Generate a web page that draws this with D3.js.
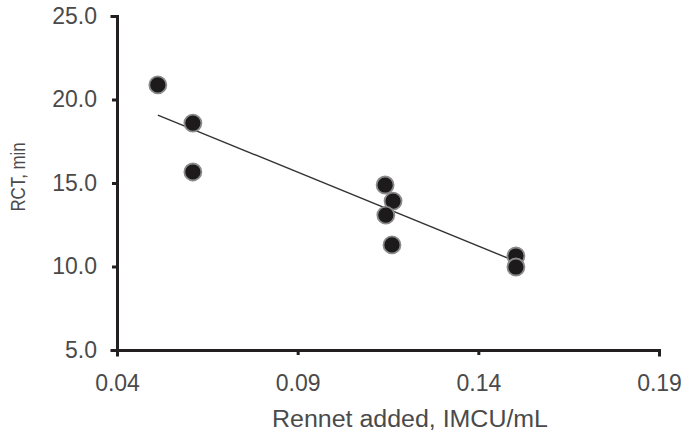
<!DOCTYPE html>
<html>
<head>
<meta charset="utf-8">
<script src="https://cdn.jsdelivr.net/npm/d3@7"></script>
<style>
  body { margin: 0; background: #fff; }
  svg text { font-family: "Liberation Sans", Arial, sans-serif; fill: #4a4a4a; }
  .axis path, .axis line { stroke: #231f20; stroke-width: 3; }
</style>
</head>
<body>
<svg width="685" height="434"></svg>
<script>
// rennet added (IMCU/mL) vs rennet coagulation time (min)
var rennet = [0.0513, 0.0610, 0.0610, 0.1142, 0.1164, 0.1144, 0.1161, 0.1504, 0.1504];
var rct    = [20.87, 18.59, 15.66, 14.88, 13.92, 13.08, 11.29, 10.63, 9.97];

// trend line ends
var trendX = [0.0513, 0.1501];
var trendY = [19.07, 10.33];

var xTicks = [0.04, 0.09, 0.14, 0.19];
var yTicks = [5, 10, 15, 20, 25];

var svg = d3.select("svg");
var margin = {left: 117, top: 16, right: 26, bottom: 84};
var width = 685 - margin.left - margin.right,
    height = 434 - margin.top - margin.bottom;

var x = d3.scaleLinear().domain([0.04, 0.19]).range([0, width]);
var y = d3.scaleLinear().domain([5, 25]).range([height, 0]);

var g = svg.append("g")
  .attr("transform", "translate(" + margin.left + "," + margin.top + ")");

// trend line
var line = d3.line()
  .x(function(d) { return x(d[0]); })
  .y(function(d) { return y(d[1]); });

g.append("path")
  .datum(d3.zip(trendX, trendY))
  .attr("d", line)
  .attr("fill", "none")
  .attr("stroke", "#333")
  .attr("stroke-width", 1.4);

// points
g.selectAll("circle")
  .data(d3.zip(rennet, rct))
  .enter().append("circle")
    .attr("cx", function(d) { return x(d[0]); })
    .attr("cy", function(d) { return y(d[1]); })
    .attr("r", 8.5)
    .attr("fill", "#1c1a1b")
    .attr("stroke", "#8a8a8a")
    .attr("stroke-width", 1.8);

// axes
var xAxis = d3.axisBottom(x)
  .tickValues(xTicks)
  .tickFormat(d3.format(".2f"))
  .tickSize(5)
  .tickSizeOuter(5)
  .tickPadding(20);

var yAxis = d3.axisLeft(y)
  .tickValues(yTicks)
  .tickFormat(d3.format(".1f"))
  .tickSize(5)
  .tickSizeOuter(5)
  .tickPadding(15);

g.append("g")
  .attr("class", "axis x")
  .attr("transform", "translate(0," + height + ")")
  .call(xAxis);

g.append("g")
  .attr("class", "axis y")
  .call(yAxis);

g.selectAll(".axis path").attr("stroke-linecap", "square");
g.selectAll(".axis text")
  .style("font-size", "23px")
  .attr("fill", "#4a4a4a");

// axis titles
svg.append("text")
  .attr("x", 410)
  .attr("y", 427)
  .attr("text-anchor", "middle")
  .attr("textLength", 276)
  .attr("lengthAdjust", "spacingAndGlyphs")
  .style("font-size", "23px")
  .text("Rennet added, IMCU/mL");

// y title is drawn a little condensed in the original
svg.append("text")
  .attr("transform", "translate(25,177) rotate(-90) scale(0.8,1)")
  .attr("text-anchor", "middle")
  .style("font-size", "21px")
  .text("RCT, min");
</script>
</body>
</html>
